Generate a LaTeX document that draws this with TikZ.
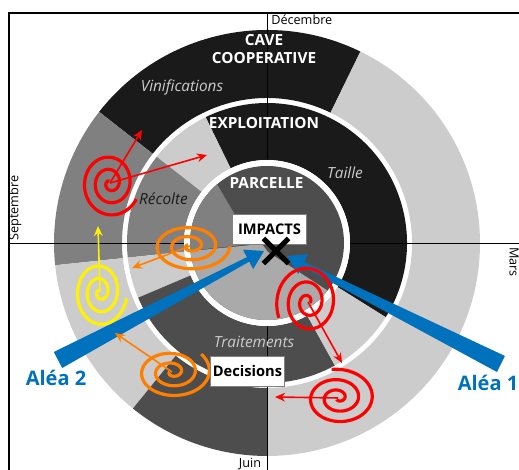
\documentclass[tikz,border=0pt]{standalone}
\usepackage{fontspec}
\setmainfont{Open Sans}
\usetikzlibrary{arrows.meta,calc,shapes.misc}

\definecolor{noir}{HTML}{1A1A1A}
\definecolor{fonce}{HTML}{4D4D4D}
\definecolor{moyen}{HTML}{808080}
\definecolor{clair}{HTML}{CCCCCC}
\definecolor{parcclair}{HTML}{AAAAAA}
\definecolor{bleu}{HTML}{0071BC}
\definecolor{orangespi}{HTML}{FF7F00}

% secteur d'anneau : rayon int, rayon ext, angle debut, angle fin, couleur
\newcommand{\secteur}[5]{%
  \fill[#5] ($(O)+(#3:#2)$) arc[start angle=#3, end angle=#4, radius=#2]
    -- ($(O)+(#4:#1)$) arc[start angle=#4, end angle=#3, radius=#1] -- cycle;}

\begin{document}
\begin{tikzpicture}[x=0.75pt, y=0.75pt,
    titre/.style={text=white, font=\bfseries\fontsize{11.5}{13.5}\selectfont, align=center},
    periode/.style={font=\itshape\fontsize{11.5}{13}\selectfont},
    mois/.style={font=\fontsize{9.5}{11}\selectfont, inner sep=0pt},
    boite/.style={draw=gray, fill=white, line width=0.6pt, font=\bfseries\fontsize{11}{13}\selectfont,
      minimum width=56pt, minimum height=23pt, inner sep=0pt},
    alea/.style={text=bleu, font=\bfseries\fontsize{15}{17}\selectfont},
    spire/.style={line width=2.4pt, domain=0.06:1, samples=140, smooth, variable=\t},
    fleche/.style={line width=1.2pt, -{Stealth[length=7.5pt, width=6.5pt, inset=2.5pt]}}]
  \useasboundingbox (0,0) rectangle (519,470);
  \coordinate (O) at (267,227);

  % cave cooperative
  \secteur{145}{213}{64}{142}{noir}
  \secteur{145}{213}{142}{186}{moyen}
  \secteur{145}{213}{186}{231}{clair}
  \secteur{145}{213}{231}{270}{fonce}
  \secteur{145}{213}{270}{424}{clair}

  % exploitation
  \secteur{83}{140}{-32}{116}{noir}
  \secteur{83}{140}{116}{142}{clair}
  \secteur{83}{140}{142}{186}{moyen}
  \secteur{83}{140}{186}{203}{clair}
  \secteur{83}{140}{203}{299}{fonce}
  \secteur{83}{140}{299}{328}{clair}

  % axes
  \draw[line width=0.8pt] (9,0) -- (9,457) -- (519,457);
  \draw[line width=0.8pt] (9,226.5) -- (519,226.5);
  \draw[line width=0.8pt] (267.5,457) -- (267.5,0);

  % parcelle
  \fill[white] (O) circle (83);
  \fill[fonce] (O) circle (77);
  \begin{scope}
    \clip (O) circle (77);
    \fill[moyen] (252,226) -- (190,332) -- (150,332) -- (150,215) -- cycle;
    \fill[parcclair] (150,215) -- (262,226) -- (268,218) -- (370,152) -- (370,130) -- (150,130) -- cycle;
  \end{scope}

  \node[mois, anchor=west] (dec) at (271,450) {Décembre};
  \node[mois, rotate=90] (sep) at (15,262) {Septembre};
  \node[mois, rotate=-90] (mars) at (514,208) {Mars};
  \node[mois] (juin) at (250,6) {Juin};

  \node[titre] (cave) at (264,421) {CAVE\\COOPERATIVE};
  \node[periode, text=clair] (vinif) at (182,383) {Vinifications};
  \node[titre] (exploit) at (264,347) {EXPLOITATION};
  \node[periode, text=clair] (taille) at (345,297) {Taille};
  \node[titre] (parcelle) at (266.5,287) {PARCELLE};
  \node[periode, text=noir] (recolte) at (163.5,271) {Récolte};
  \node[periode, text=clair] (trait) at (254,128) {Traitements};

  % aleas
  \fill[bleu] (287,214) -- (308.0,215.7) -- (304.2,208.1) -- (505,114) -- (497,98)
    -- (302.0,203.7) -- (298.2,196.1) -- cycle;
  \fill[bleu] (264,219) -- (243.0,220.3) -- (246.9,212.8) -- (53.8,118.0) -- (62.2,102.0)
    -- (249.3,208.4) -- (253.2,200.9) -- cycle;
  \node[alea] (alea2) at (56,92) {Aléa 2};
  \node[alea] (alea1) at (488,87) {Aléa 1};

  % spirales
  \coordinate (r1) at (110,287);
  \coordinate (r1a) at (142,340);
  \coordinate (r1b) at (207,315);
  \coordinate (o1) at (190,224);
  \coordinate (o1a) at (132,202);
  \coordinate (j1) at (100,178);
  \coordinate (j1a) at (98,244);
  \coordinate (o2) at (172,98);
  \coordinate (o2a) at (115,137);
  \coordinate (r2) at (308,168);
  \coordinate (r2a) at (342,107);
  \coordinate (r3) at (338,72);
  \coordinate (r3a) at (275,73);

  \foreach \s/\rx/\ry/\fin/\coul in {r1/30/34/-28/red, o1/40/25/0/orangespi, j1/27/35/-10/yellow,
      o2/39/27/42/orangespi, r2/32/38/205/red, r3/38/29/100/red}
    \draw[spire, \coul, shift={(\s)}] plot ({\rx*\t*cos(1000*\t-1000+\fin)}, {\ry*\t*sin(1000*\t-1000+\fin)});

  \draw[fleche, red] (r1) -- (r1a);
  \draw[fleche, red] (r1) -- (r1b);
  \draw[fleche, orangespi] (o1) -- (o1a);
  \draw[fleche, yellow] (j1) -- (j1a);
  \draw[fleche, orangespi] (o2) -- (o2a);
  \draw[fleche, red] (r2) -- (r2a);
  \draw[fleche, red] (r3) -- (r3a);

  \node[boite] (impacts) at (269.5,240.5) {IMPACTS};
  \node[boite] (decisions) at (247.5,98.5) {Decisions};
  \node[cross out, draw=black, line width=3.8pt, minimum size=15pt, inner sep=0pt] (croix) at (276,219) {};
\end{tikzpicture}
\end{document}
